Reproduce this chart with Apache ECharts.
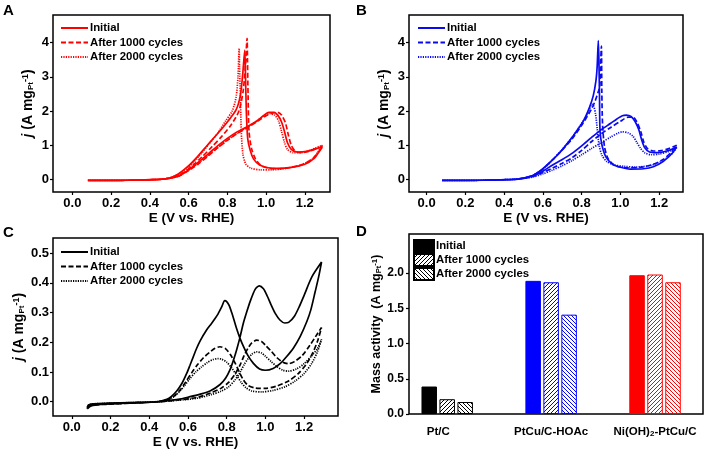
<!DOCTYPE html>
<html><head><meta charset="utf-8">
<script src="https://cdn.jsdelivr.net/npm/echarts@6/dist/echarts.min.js"></script>
<style>html,body{margin:0;padding:0;background:#fff}#c{width:707px;height:453px}</style>
</head><body><div id="c"></div>
<script>
// ---------- Panel A (red) : [E (V), j (A/mgPt)] in scan order ----------
const aInitial = [[0.08,-0.03],[0.15,-0.03],[0.3,-0.025],[0.4,-0.01],[0.45,0.0],[0.5,0.03],[0.55,0.1],[0.61,0.32],[0.65,0.5],[0.7,0.74],[0.75,0.98],[0.8,1.2],[0.85,1.39],[0.9,1.53],[0.95,1.7],[0.99,1.88],[1.015,1.96],[1.04,1.96],[1.06,1.88],[1.08,1.68],[1.095,1.4],[1.11,1.08],[1.13,0.88],[1.16,0.8],[1.21,0.82],[1.26,0.9],[1.29,0.94],
  [1.27,0.78],[1.25,0.62],[1.2,0.44],[1.13,0.35],[1.06,0.32],[1.01,0.34],[0.965,0.43],[0.935,0.6],[0.918,0.85],[0.905,1.2],[0.898,2.0],[0.894,3.0],[0.89,3.78],[0.879,3.05],[0.867,2.45],[0.845,2.03],[0.8,1.68],[0.75,1.34],[0.7,1.02],[0.645,0.66],[0.595,0.37],[0.545,0.15],[0.5,0.04],[0.45,0.0],[0.4,-0.015],[0.3,-0.025],[0.15,-0.03],[0.08,-0.03]];
const a1000 = [[0.08,-0.03],[0.3,-0.025],[0.45,0.0],[0.5,0.03],[0.55,0.1],[0.6,0.26],[0.65,0.45],[0.7,0.68],[0.75,0.92],[0.8,1.14],[0.85,1.34],[0.9,1.5],[0.95,1.68],[1.0,1.86],[1.03,1.94],[1.06,1.96],[1.08,1.88],[1.1,1.65],[1.115,1.3],[1.13,1.0],[1.15,0.83],[1.18,0.78],[1.22,0.82],[1.26,0.9],[1.29,0.97],
  [1.27,0.8],[1.24,0.6],[1.19,0.44],[1.12,0.34],[1.06,0.31],[1.01,0.33],[0.97,0.42],[0.945,0.6],[0.925,0.9],[0.912,1.4],[0.907,2.5],[0.904,3.5],[0.902,4.13],[0.893,3.3],[0.882,2.6],[0.86,2.0],[0.82,1.6],[0.77,1.25],[0.72,0.95],[0.67,0.66],[0.62,0.4],[0.57,0.18],[0.52,0.06],[0.47,0.01],[0.4,-0.01],[0.3,-0.025],[0.08,-0.03]];
const a2000 = [[0.08,-0.03],[0.3,-0.025],[0.45,0.0],[0.5,0.03],[0.55,0.1],[0.6,0.27],[0.65,0.47],[0.7,0.7],[0.75,0.93],[0.8,1.15],[0.85,1.35],[0.9,1.52],[0.95,1.7],[0.99,1.86],[1.02,1.92],[1.045,1.88],[1.065,1.7],[1.08,1.4],[1.095,1.08],[1.11,0.88],[1.14,0.78],[1.18,0.78],[1.23,0.86],[1.29,1.0],
  [1.27,0.82],[1.24,0.6],[1.18,0.42],[1.1,0.32],[1.03,0.28],[0.97,0.28],[0.92,0.33],[0.895,0.45],[0.88,0.75],[0.872,1.4],[0.867,2.5],[0.863,3.3],[0.861,3.83],[0.855,3.0],[0.845,2.4],[0.825,2.0],[0.79,1.7],[0.75,1.35],[0.7,1.0],[0.65,0.65],[0.6,0.36],[0.55,0.15],[0.5,0.04],[0.45,0.0],[0.3,-0.025],[0.08,-0.03]];

// ---------- Panel B (blue) ----------
const bInitial = [[0.08,-0.03],[0.3,-0.025],[0.45,0.0],[0.5,0.03],[0.55,0.1],[0.6,0.24],[0.65,0.42],[0.7,0.58],[0.75,0.76],[0.8,0.98],[0.85,1.22],[0.9,1.45],[0.95,1.64],[0.98,1.76],[1.01,1.86],[1.03,1.88],[1.055,1.84],[1.075,1.7],[1.095,1.45],[1.11,1.15],[1.125,0.93],[1.15,0.8],[1.19,0.78],[1.24,0.83],[1.29,0.95],
  [1.27,0.78],[1.22,0.52],[1.17,0.37],[1.12,0.31],[1.05,0.3],[0.99,0.37],[0.96,0.44],[0.925,0.66],[0.905,1.0],[0.895,1.4],[0.892,2.5],[0.889,3.5],[0.886,4.06],[0.88,3.3],[0.874,2.9],[0.86,2.45],[0.84,2.1],[0.81,1.72],[0.77,1.38],[0.74,1.15],[0.69,0.8],[0.64,0.52],[0.59,0.27],[0.55,0.12],[0.5,0.04],[0.45,0.0],[0.3,-0.025],[0.08,-0.03]];
const b1000 = [[0.08,-0.03],[0.3,-0.025],[0.45,0.0],[0.5,0.03],[0.55,0.09],[0.6,0.2],[0.65,0.33],[0.7,0.47],[0.75,0.63],[0.8,0.85],[0.85,1.1],[0.9,1.33],[0.95,1.52],[1.0,1.7],[1.04,1.82],[1.065,1.82],[1.085,1.68],[1.105,1.4],[1.12,1.1],[1.14,0.9],[1.17,0.83],[1.21,0.84],[1.25,0.9],[1.29,1.0],
  [1.26,0.78],[1.22,0.58],[1.16,0.42],[1.1,0.35],[1.04,0.34],[0.99,0.37],[0.96,0.45],[0.935,0.62],[0.918,0.95],[0.908,1.6],[0.904,2.6],[0.902,3.9],[0.897,3.3],[0.893,2.7],[0.885,2.55],[0.87,2.3],[0.85,2.05],[0.8,1.58],[0.75,1.18],[0.7,0.86],[0.65,0.57],[0.6,0.3],[0.55,0.12],[0.5,0.04],[0.45,0.0],[0.3,-0.025],[0.08,-0.03]];
const b2000 = [[0.08,-0.03],[0.3,-0.025],[0.45,0.0],[0.5,0.03],[0.55,0.07],[0.6,0.16],[0.65,0.27],[0.7,0.4],[0.75,0.55],[0.8,0.72],[0.85,0.9],[0.9,1.07],[0.95,1.24],[0.99,1.36],[1.01,1.39],[1.04,1.36],[1.065,1.26],[1.085,1.08],[1.105,0.9],[1.125,0.78],[1.16,0.72],[1.2,0.74],[1.25,0.82],[1.29,0.92],
  [1.26,0.72],[1.21,0.52],[1.15,0.4],[1.08,0.36],[1.02,0.38],[0.97,0.42],[0.93,0.52],[0.905,0.7],[0.89,1.0],[0.88,1.5],[0.872,1.9],[0.862,2.15],[0.852,2.2],[0.84,2.05],[0.82,1.82],[0.79,1.55],[0.75,1.22],[0.7,0.88],[0.65,0.57],[0.6,0.3],[0.55,0.12],[0.5,0.04],[0.45,0.0],[0.3,-0.025],[0.08,-0.03]];

// ---------- Panel C (black) ----------
const cInitial = [[0.08,-0.024],[0.1,-0.014],[0.15,-0.009],[0.25,-0.006],[0.35,-0.003],[0.45,0.0],[0.55,0.008],[0.611,0.017],[0.66,0.025],[0.714,0.036],[0.766,0.058],[0.795,0.08],[0.817,0.107],[0.835,0.14],[0.852,0.176],[0.87,0.22],[0.886,0.264],[0.905,0.305],[0.921,0.337],[0.947,0.378],[0.968,0.39],[0.99,0.38],[1.01,0.355],[1.03,0.325],[1.05,0.298],[1.075,0.275],[1.1,0.265],[1.12,0.267],[1.15,0.288],[1.175,0.32],[1.2,0.358],[1.24,0.42],[1.29,0.47],
  [1.275,0.42],[1.257,0.37],[1.235,0.31],[1.214,0.27],[1.18,0.22],[1.145,0.181],[1.11,0.152],[1.076,0.128],[1.04,0.112],[1.0,0.106],[0.97,0.11],[0.938,0.129],[0.91,0.155],[0.886,0.187],[0.868,0.215],[0.852,0.245],[0.838,0.275],[0.826,0.3],[0.812,0.325],[0.8,0.337],[0.79,0.34],[0.775,0.32],[0.755,0.295],[0.74,0.28],[0.72,0.262],[0.697,0.242],[0.663,0.205],[0.645,0.18],[0.628,0.152],[0.61,0.122],[0.594,0.096],[0.57,0.063],[0.542,0.036],[0.515,0.018],[0.491,0.008],[0.44,0.0],[0.35,-0.002],[0.25,-0.004],[0.15,-0.006],[0.1,-0.008],[0.085,-0.014],[0.08,-0.024]];
const c1000 = [[0.08,-0.02],[0.1,-0.012],[0.2,-0.008],[0.3,-0.005],[0.45,0.0],[0.55,0.006],[0.65,0.015],[0.72,0.03],[0.77,0.045],[0.81,0.065],[0.845,0.095],[0.87,0.125],[0.89,0.155],[0.91,0.18],[0.93,0.198],[0.955,0.207],[0.98,0.203],[1.0,0.19],[1.03,0.17],[1.06,0.148],[1.09,0.133],[1.12,0.128],[1.15,0.135],[1.19,0.155],[1.23,0.19],[1.26,0.22],[1.29,0.25],
  [1.27,0.205],[1.245,0.165],[1.21,0.125],[1.17,0.095],[1.12,0.07],[1.06,0.053],[1.0,0.045],[0.95,0.046],[0.91,0.055],[0.885,0.075],[0.865,0.1],[0.845,0.128],[0.82,0.158],[0.795,0.178],[0.765,0.185],[0.74,0.18],[0.71,0.165],[0.68,0.148],[0.65,0.125],[0.62,0.098],[0.59,0.068],[0.56,0.04],[0.53,0.02],[0.5,0.008],[0.45,0.0],[0.3,-0.004],[0.15,-0.007],[0.09,-0.01],[0.08,-0.02]];
const c2000 = [[0.08,-0.018],[0.1,-0.011],[0.2,-0.007],[0.3,-0.004],[0.45,0.0],[0.55,0.005],[0.65,0.012],[0.72,0.024],[0.77,0.035],[0.81,0.05],[0.845,0.075],[0.87,0.1],[0.89,0.125],[0.91,0.145],[0.93,0.16],[0.955,0.168],[0.98,0.164],[1.0,0.153],[1.03,0.135],[1.06,0.118],[1.09,0.106],[1.12,0.103],[1.16,0.11],[1.2,0.128],[1.24,0.155],[1.27,0.18],[1.29,0.21],
  [1.27,0.17],[1.24,0.13],[1.2,0.095],[1.15,0.068],[1.1,0.05],[1.04,0.038],[0.98,0.033],[0.93,0.036],[0.9,0.047],[0.875,0.065],[0.85,0.09],[0.825,0.115],[0.8,0.133],[0.775,0.143],[0.755,0.145],[0.73,0.142],[0.7,0.132],[0.67,0.117],[0.64,0.1],[0.61,0.078],[0.58,0.052],[0.55,0.03],[0.52,0.014],[0.48,0.004],[0.43,0.0],[0.3,-0.003],[0.15,-0.006],[0.09,-0.009],[0.08,-0.018]];

// ---------- Panel D (bars) ----------
const barCategories = ['Pt/C', 'PtCu/C-HOAc', 'Ni(OH)2-PtCu/C'];
const barInitial = [0.39, 1.89, 1.97];
const bar1000 = [0.21, 1.87, 1.98];
const bar2000 = [0.17, 1.41, 1.87];

// ---------- tick labels ----------
const eTicks = [0, 0.2, 0.4, 0.6, 0.8, 1.0, 1.2];
const jTicksAB = [0, 1, 2, 3, 4];
const jTicksC = [0, 0.1, 0.2, 0.3, 0.4, 0.5];
const maTicks = [0, 0.5, 1.0, 1.5, 2.0];
const legendNames = ['Initial', 'After 1000 cycles', 'After 2000 cycles'];

// ---------- styling ----------
const FONT = "'Liberation Sans', Arial, sans-serif";
const RED = '#ff0000', BLUE = '#0a0af0', BLACK = '#000000';
const barColors = ['#000000', '#0000ff', '#ff0000'];
const ZW = '\u200b';
const lineTypes = ['solid', [5, 2.5], [1.2, 1.2]];

function hatch(color, dir) {
  const s = 4, c = document.createElement('canvas');
  c.width = s; c.height = s;
  const g = c.getContext('2d');
  g.fillStyle = '#fff'; g.fillRect(0, 0, s, s);
  g.strokeStyle = color; g.lineWidth = 1;
  g.beginPath();
  if (dir === '/') {
    g.moveTo(0, s); g.lineTo(s, 0);
    g.moveTo(-1, 1); g.lineTo(1, -1);
    g.moveTo(s - 1, s + 1); g.lineTo(s + 1, s - 1);
  } else {
    g.moveTo(0, 0); g.lineTo(s, s);
    g.moveTo(-1, s - 1); g.lineTo(1, s + 1);
    g.moveTo(s - 1, -1); g.lineTo(s + 1, 1);
  }
  g.stroke();
  return { image: c, repeat: 'repeat' };
}

const tickFont = { color: '#000', fontWeight: 'bold', fontSize: 13, fontFamily: FONT };
const nameFont = { color: '#000', fontWeight: 'bold', fontSize: 13.5, fontFamily: FONT };
const jRich = {
  i: { fontStyle: 'italic', fontWeight: 'bold', fontSize: 14, fontFamily: FONT, color: '#000' },
  n: { fontWeight: 'bold', fontSize: 14, fontFamily: FONT, color: '#000' },
  sub: { fontWeight: 'bold', fontSize: 8, fontFamily: FONT, color: '#000', verticalAlign: 'bottom', lineHeight: 10 },
  sup: { fontWeight: 'bold', fontSize: 9, fontFamily: FONT, color: '#000', verticalAlign: 'top', lineHeight: 10 }
};

function xE(grid, min, max) {
  return {
    type: 'value', gridIndex: grid, min: min, max: max,
    name: 'E (V vs. RHE)', nameLocation: 'middle', nameGap: 18, nameTextStyle: nameFont,
    axisLine: { show: false, onZero: false },
    splitLine: { show: false },
    axisTick: { customValues: eTicks, length: 3, lineStyle: { color: '#000', width: 1.2 } },
    axisLabel: Object.assign({ customValues: eTicks, margin: 5, formatter: v => v.toFixed(1) }, tickFont)
  };
}
function yJ(grid, min, max, ticks, digits) {
  return {
    type: 'value', gridIndex: grid, min: min, max: max,
    name: '{i|j}{n| (A mg}{sub|Pt}{sup|-1}{n|)}', nameLocation: 'middle', nameGap: digits ? 27 : 18,
    nameTextStyle: { rich: jRich },
    axisLine: { show: false, onZero: false },
    splitLine: { show: false },
    axisTick: { customValues: ticks, length: 3, lineStyle: { color: '#000', width: 1.2 } },
    axisLabel: Object.assign({ customValues: ticks, margin: 4, formatter: v => v.toFixed(digits) }, tickFont)
  };
}

function cvSeries(name, data, color, typeIdx, ax) {
  return {
    type: 'line', name: name, data: data, xAxisIndex: ax, yAxisIndex: ax,
    symbol: 'none', showSymbol: false, smooth: 0.25, clip: true,
    lineStyle: { color: color, width: 1.7, type: lineTypes[typeIdx] },
    itemStyle: { color: color }
  };
}

function cvLegend(left, top, suffix) {
  return {
    left: left, top: top, orient: 'vertical', padding: 0,
    itemWidth: 27, itemHeight: 12, itemGap: 2.5, selectedMode: false,
    itemStyle: { opacity: 0 },
    data: legendNames.map(n => n + suffix),
    formatter: n => n.replace(/\u200b/g, ''),
    textStyle: { color: '#000', fontWeight: 'bold', fontSize: 11.4, lineHeight: 12, fontFamily: FONT, padding: [0, 0, 0, -3] }
  };
}

const gridBox = { show: true, borderColor: '#000', borderWidth: 1.5, backgroundColor: 'transparent' };

const series = [];
[aInitial, a1000, a2000].forEach((d, i) => series.push(cvSeries(legendNames[i], d, RED, i, 0)));
[bInitial, b1000, b2000].forEach((d, i) => series.push(cvSeries(legendNames[i] + ZW, d, BLUE, i, 1)));
[cInitial, c1000, c2000].forEach((d, i) => series.push(cvSeries(legendNames[i] + ZW + ZW, d, BLACK, i, 2)));

const dSuffix = ZW + ZW + ZW;
series.push({
  type: 'bar', name: legendNames[0] + dSuffix, xAxisIndex: 4, yAxisIndex: 4,
  barWidth: 15.5, barGap: '16%',
  itemStyle: { color: '#000', borderColor: '#000', borderWidth: 1 },
  data: barInitial.map((v, i) => ({ value: v, itemStyle: { color: barColors[i], borderColor: barColors[i], borderWidth: 1 } }))
});
series.push({
  type: 'bar', name: legendNames[1] + dSuffix, xAxisIndex: 4, yAxisIndex: 4,
  barWidth: 15.5, barGap: '16%',
  itemStyle: { color: hatch('#000', '/'), borderColor: '#000', borderWidth: 1 },
  data: bar1000.map((v, i) => ({ value: v, itemStyle: { color: hatch(barColors[i], '/'), borderColor: barColors[i], borderWidth: 1 } }))
});
series.push({
  type: 'bar', name: legendNames[2] + dSuffix, xAxisIndex: 4, yAxisIndex: 4,
  barWidth: 15.5, barGap: '16%',
  itemStyle: { color: hatch('#000', '\\'), borderColor: '#000', borderWidth: 1 },
  data: bar2000.map((v, i) => ({ value: v, itemStyle: { color: hatch(barColors[i], '\\'), borderColor: barColors[i], borderWidth: 1 } }))
});

const catRich = {
  c: { fontWeight: 'bold', fontSize: 11.5, fontFamily: FONT, color: '#000' },
  p: { fontWeight: 'bold', fontSize: 11.5, fontFamily: FONT, color: '#000', padding: [0, 18, 0, 0] },
  s: { fontWeight: 'bold', fontSize: 8, fontFamily: FONT, color: '#000', verticalAlign: 'bottom', lineHeight: 9 }
};

const option = {
  animation: false,
  backgroundColor: '#fff',
  grid: [
    Object.assign({ left: 53, top: 15, width: 277, height: 177 }, gridBox),
    Object.assign({ left: 409, top: 15, width: 274, height: 177 }, gridBox),
    Object.assign({ left: 53, top: 238, width: 285, height: 178 }, gridBox),
    Object.assign({ left: 409, top: 234, width: 294, height: 180 }, gridBox),
    { left: 395.25, top: 234, width: 313.5, height: 180, show: false }
  ],
  xAxis: [
    xE(0, -0.1, 1.33),
    xE(1, -0.091, 1.323),
    Object.assign(xE(2, -0.097, 1.375), { nameGap: 17 }),
    { type: 'value', gridIndex: 3, show: false, min: 0, max: 1 },
    {
      type: 'category', gridIndex: 4, data: barCategories,
      axisLine: { show: false }, axisTick: { show: false },
      axisLabel: {
        margin: 12, interval: 0, hideOverlap: false,
        formatter: v => {
          if (v === 'Pt/C') return '{p|Pt/C}';
          if (v.indexOf('Ni(OH)2') === 0) return '{c|Ni(OH)}{s|2}{c|' + v.slice(7) + '}';
          return '{c|' + v + '}';
        },
        rich: catRich
      }
    }
  ],
  yAxis: [
    yJ(0, -0.37, 4.81, jTicksAB, 0),
    yJ(1, -0.37, 4.81, jTicksAB, 0),
    yJ(2, -0.048, 0.551, jTicksC, 1),
    {
      type: 'value', gridIndex: 3, min: 0, max: 2.555,
      name: '{n|Mass activity  (A mg}{sub|Pt}{sup|-1}{n|)}', nameLocation: 'middle', nameGap: 21,
      nameTextStyle: { rich: {
        n: { fontWeight: 'bold', fontSize: 12.5, fontFamily: FONT, color: '#000' },
        sub: { fontWeight: 'bold', fontSize: 7.5, fontFamily: FONT, color: '#000', verticalAlign: 'bottom', lineHeight: 9 },
        sup: { fontWeight: 'bold', fontSize: 8, fontFamily: FONT, color: '#000', verticalAlign: 'top', lineHeight: 9 }
      } },
      axisLine: { show: false, onZero: false },
      splitLine: { show: false },
      axisTick: { customValues: maTicks, length: 3, lineStyle: { color: '#000', width: 1.2 } },
      axisLabel: { customValues: maTicks, margin: 5, formatter: v => v.toFixed(1), color: '#000', fontWeight: 'bold', fontSize: 12, fontFamily: FONT }
    },
    { type: 'value', gridIndex: 4, min: 0, max: 2.555, show: false }
  ],
  legend: [
    cvLegend(60, 22, ''),
    cvLegend(417, 22, ZW),
    cvLegend(60, 246, ZW + ZW),
    {
      left: 413, top: 239, orient: 'vertical', padding: 0,
      itemWidth: 20, itemHeight: 12, itemGap: 0, selectedMode: false, icon: 'rect',
      data: legendNames.map(n => n + dSuffix),
      formatter: n => n.replace(/\u200b/g, ''),
      textStyle: { color: '#000', fontWeight: 'bold', fontSize: 11.4, lineHeight: 12, fontFamily: FONT, padding: [0, 0, 0, -3] }
    }
  ],
  graphic: [
    { type: 'text', left: 3, top: 3, style: { text: 'A', font: 'bold 15px ' + FONT, fill: '#000' } },
    { type: 'text', left: 356, top: 3, style: { text: 'B', font: 'bold 15px ' + FONT, fill: '#000' } },
    { type: 'text', left: 3, top: 225, style: { text: 'C', font: 'bold 15px ' + FONT, fill: '#000' } },
    { type: 'text', left: 356, top: 224, style: { text: 'D', font: 'bold 15px ' + FONT, fill: '#000' } }
  ],
  series: series
};

const chart = echarts.init(document.getElementById('c'), null, { renderer: 'canvas' });
chart.setOption(option);
</script></body></html>
